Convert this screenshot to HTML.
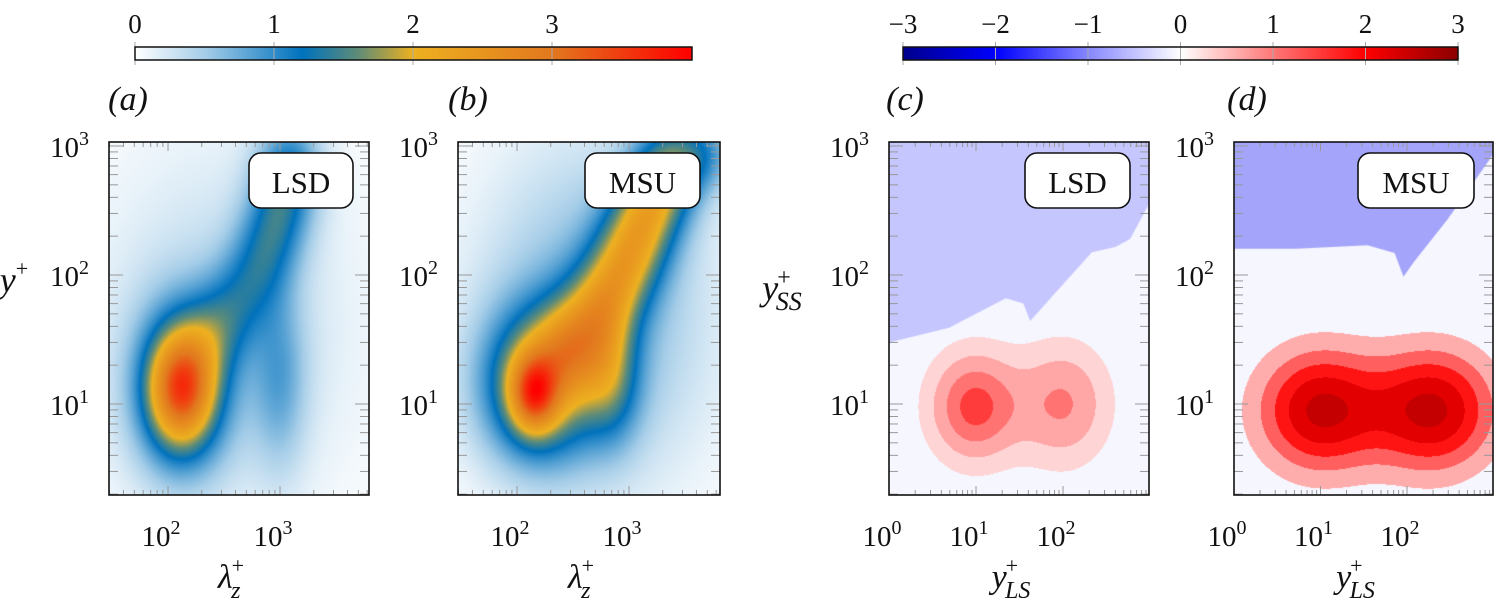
<!DOCTYPE html>
<html><head><meta charset="utf-8">
<style>
html,body{margin:0;padding:0;background:#fff;}
#wrap{position:relative;width:1494px;height:611px;overflow:hidden;}
canvas{position:absolute;}
svg{position:absolute;left:0;top:0;}
text{font-family:"Liberation Serif",serif;fill:#111;}
</style></head>
<body>
<div id="wrap">
<canvas id="cbA"></canvas>
<canvas id="cbC"></canvas>
<canvas id="ca"></canvas>
<canvas id="cb"></canvas>
<canvas id="cc"></canvas>
<canvas id="cd"></canvas>
<svg id="ov" width="1494" height="611"></svg>
</div>
<script>
// ---- data (log10 coordinates: u = log10 x, v = log10 y) ----
const cbATicks = ["0","1","2","3"];
const cbCTicks = ["\u22123","\u22122","\u22121","0","1","2","3"];
const panelLetters = ["(a)","(b)","(c)","(d)"];
const boxLabels = ["LSD","MSU","LSD","MSU"];
// blobs: [u, v, sigma_u, sigma_v, amplitude]
const blobsA = [[2.12,1.12,0.3,0.45,1.4],[2.12,1.12,0.2,0.3,1.9],
  [2.38,1.5,0.2,0.25,0.5],[2.6,1.75,0.2,0.25,0.55],[2.8,2.05,0.2,0.25,0.6],[2.95,2.35,0.2,0.25,0.65],[3.05,2.65,0.2,0.25,0.7],[3.1,2.95,0.2,0.25,0.6],
  [3.0,1.2,0.17,0.5,0.6],[2.5,1.6,0.8,1.0,0.35]];
const blobsB = [[2.15,1.08,0.14,0.2,1.6],[2.2,1.15,0.35,0.4,1.9],
  [2.5,1.45,0.22,0.25,1.05],[2.75,1.75,0.22,0.25,1.05],[2.95,2.05,0.22,0.25,1.05],[3.1,2.35,0.22,0.25,1.1],[3.25,2.65,0.22,0.25,1.1],[3.4,2.9,0.22,0.25,0.9],
  [2.85,1.2,0.18,0.35,0.9],[2.7,1.7,0.7,0.9,0.7],[3.7,2.95,0.2,0.2,0.6]];
const blobsC = [[0.98,0.98,0.36,0.3,2.2],[2.0,1.0,0.38,0.33,1.55]];
const blobsD = [[1.0,0.95,0.5,0.33,2.6],[2.3,0.95,0.5,0.33,2.6]];
const levelsC = [0.45,0.95,1.5,2.0];
const levelsD = [0.5,1.0,1.5,2.0,2.5];
// negative-region boundary [x, y] in data coordinates
const negBoundaryC = [[1,30],[4.9,39],[22,66],[35,60],[42,44],[79,71],[215,150],[400,165],[590,190],[850,300],[980,360]];
const negBoundaryD = [[1,160],[5.2,160],[35,170],[72,148],[91,97],[120,126],[295,270],[980,850]];

// ---- geometry ----
const Y0=142, Y1=495;
function vOf(py){return 1+(404-py)/129;}
function yPix(v){return 404-(v-1)*129;}
const panels=[
 {id:'ca',x0:109,x1:369,u0:1.473,dec:112,kind:'heat',blobs:blobsA},
 {id:'cb',x0:458,x1:720,u0:1.473,dec:112,kind:'heat',blobs:blobsB},
 {id:'cc',x0:889,x1:1149,u0:0,dec:87,kind:'cont',blobs:blobsC,levels:levelsC,neg:negBoundaryC,negCol:[198,198,255],
  cols:[[255,212,212],[255,166,166],[255,115,115],[255,60,60]]},
 {id:'cd',x0:1234,x1:1493,u0:0,dec:86.5,kind:'cont',blobs:blobsD,levels:levelsD,neg:negBoundaryD,negCol:[164,164,250],
  cols:[[255,172,172],[255,95,95],[255,20,20],[226,0,0],[196,0,0]]}
];
panels.forEach(p=>{p.xPix=u=>p.x0+(u-p.u0)*p.dec; p.uOf=px=>p.u0+(px-p.x0)/p.dec;});

const heatStops=[[0,[255,255,255]],[0.5,[165,205,232]],[1.2,[0,114,189]],[1.6,[95,140,120]],[2.0,[237,177,32]],[3.0,[226,120,30]],[4.0,[255,0,0]]];
const divStops=[[-3,[0,0,140]],[-2,[0,0,255]],[-1,[135,135,255]],[0,[255,255,255]],[1,[255,120,120]],[2,[255,0,0]],[3,[140,0,0]]];
function cmap(stops,t){
  if(t<=stops[0][0])return stops[0][1];
  for(let i=1;i<stops.length;i++){if(t<=stops[i][0]){const a=stops[i-1],b=stops[i];const f=(t-a[0])/(b[0]-a[0]);
    return [0,1,2].map(k=>a[1][k]+(b[1][k]-a[1][k])*f);}}
  return stops[stops.length-1][1];
}
function field(blobs,u,v){let s=0;for(const b of blobs){const du=(u-b[0])/b[2],dv=(v-b[1])/b[3];s+=b[4]*Math.exp(-0.5*(du*du+dv*dv));}return s;}

function setupCanvas(id,x,y,w,h){const c=document.getElementById(id);c.width=w;c.height=h;c.style.left=x+'px';c.style.top=y+'px';return c.getContext('2d');}

(function(){
  let g=setupCanvas('cbA',135,47,557,13);let im=g.createImageData(557,13);
  for(let x=0;x<557;x++){const col=cmap(heatStops,4*x/556);for(let y=0;y<13;y++){const i=(y*557+x)*4;im.data[i]=col[0];im.data[i+1]=col[1];im.data[i+2]=col[2];im.data[i+3]=255;}}
  g.putImageData(im,0,0);
  g=setupCanvas('cbC',903,47,555,13);im=g.createImageData(555,13);
  for(let x=0;x<555;x++){const col=cmap(divStops,-3+6*x/554);for(let y=0;y<13;y++){const i=(y*555+x)*4;im.data[i]=col[0];im.data[i+1]=col[1];im.data[i+2]=col[2];im.data[i+3]=255;}}
  g.putImageData(im,0,0);
})();

panels.forEach(p=>{
  const w=p.x1-p.x0,h=Y1-Y0;const g=setupCanvas(p.id,p.x0,Y0,w,h);
  if(p.kind==='heat'){
    const im=g.createImageData(w,h);
    for(let y=0;y<h;y++){const v=vOf(Y0+y+0.5);for(let x=0;x<w;x++){const u=p.uOf(p.x0+x+0.5);
      const col=cmap(heatStops,Math.min(4,field(p.blobs,u,v)));const i=(y*w+x)*4;
      im.data[i]=col[0];im.data[i+1]=col[1];im.data[i+2]=col[2];im.data[i+3]=255;}}
    g.putImageData(im,0,0);
  } else {
    g.fillStyle='rgb(246,246,255)';g.fillRect(0,0,w,h);
    g.fillStyle='rgb('+p.negCol.join(',')+')';g.beginPath();g.moveTo(0,0);
    p.neg.forEach(pt=>g.lineTo(p.xPix(Math.log10(pt[0]))-p.x0,yPix(Math.log10(pt[1]))-Y0));
    g.lineTo(w,0);g.closePath();g.fill();
    const im=g.getImageData(0,0,w,h);
    for(let y=0;y<h;y++){const v=vOf(Y0+y+0.5);for(let x=0;x<w;x++){const u=p.uOf(p.x0+x+0.5);
      const f=field(p.blobs,u,v);let lev=-1;p.levels.forEach((L,k)=>{if(f>=L)lev=k;});
      if(lev>=0){const col=p.cols[lev];const i=(y*w+x)*4;im.data[i]=col[0];im.data[i+1]=col[1];im.data[i+2]=col[2];}}}
    g.putImageData(im,0,0);
  }
});

const NS='http://www.w3.org/2000/svg';const ov=document.getElementById('ov');
function el(tag,attrs,parent){const e=document.createElementNS(NS,tag);for(const k in attrs)e.setAttribute(k,attrs[k]);(parent||ov).appendChild(e);return e;}
function pow10(x,y,exp,anchor,name){
  const t=el('text',{x:x,y:y,'font-size':29,'text-anchor':anchor});
  
  
  t.appendChild(document.createTextNode('10'));
  const s=el('tspan',{dy:-12,'font-size':20},t);s.textContent=exp;return t;
}
[[135,692,cbATicks,'colorbar-energy'],[903,1458,cbCTicks,'colorbar-correlation']].forEach(c=>{
  const n=c[2].length;const step=(c[0]===135)?(552-135)/3:(c[1]-c[0])/(n-1);
  c[2].forEach((lab,i)=>{const x=c[0]+i*step;
    el('line',{x1:x,y1:42,x2:x,y2:65,stroke:'#aaa','stroke-width':1});
    const t=el('text',{x:x,y:33,'font-size':27,'text-anchor':'middle'});t.textContent=lab;
    
    
  });
  const r=el('rect',{x:c[0],y:47,width:c[1]-c[0],height:13,fill:'none',stroke:'#111','stroke-width':1.5});
  
  
});
[[128,'(a)'],[468,'(b)'],[905,'(c)'],[1247,'(d)']].forEach((d,i)=>{
  const t=el('text',{x:d[0],y:110,'font-size':34,'text-anchor':'middle','font-style':'italic'});t.textContent=panelLetters[i];
  
  
});
panels.forEach((p,pi)=>{
  const g=el('g',{});
  
  
  const uMax=p.uOf(p.x1);
  for(let d=Math.floor(p.u0);d<=Math.ceil(uMax);d++){for(let k=1;k<10;k++){const u=d+Math.log10(k);if(u<p.u0-1e-6||u>uMax)continue;
    const x=p.xPix(u),L=(k===1)?9:5;
    el('line',{x1:x,y1:Y1,x2:x,y2:Y1-L,stroke:'#999','stroke-width':1},g);
    el('line',{x1:x,y1:Y0,x2:x,y2:Y0+L,stroke:'#999','stroke-width':1},g);
    if(k===1&&x<=p.x1-20) pow10(x-7,546,String(d),'middle','x-tick-label');}}
  const vMin=vOf(Y1),vMax=vOf(Y0);
  for(let d=0;d<=3;d++){for(let k=1;k<10;k++){const v=d+Math.log10(k);if(v<vMin||v>vMax)continue;
    const y=yPix(v),L=(k===1)?14:9;
    el('line',{x1:p.x0,y1:y,x2:p.x0+L,y2:y,stroke:'#999','stroke-width':1},g);
    el('line',{x1:p.x1,y1:y,x2:p.x1-L,y2:y,stroke:'#999','stroke-width':1},g);
    if(k===1) pow10(p.x0-20,y+11,String(d),'end','y-tick-label');}}
  el('rect',{x:p.x0,y:Y0,width:p.x1-p.x0,height:Y1-Y0,fill:'none',stroke:'#111','stroke-width':1.6},g);
  const bx=[249,585,1025,1358][pi],bw=[104,115,105,116][pi];
  const b=el('rect',{x:bx,y:153,width:bw,height:55,rx:12,fill:'#fff',stroke:'#111','stroke-width':1.6});
  
  
  const t=el('text',{x:bx+bw/2,y:193,'font-size':31,'text-anchor':'middle'});t.textContent=boxLabels[pi];
  
  
  const cx=(p.x0+p.x1)/2;
  const xt=el('text',{x:cx-8,y:588,'font-size':34,'font-style':'italic','text-anchor':'middle'});
  
  
  if(p.kind==='heat'){xt.textContent='\u03bb';el('tspan',{dx:-1,dy:-15,'font-size':22,'font-style':'normal'},xt).textContent='+';el('tspan',{dx:-13,dy:25,'font-size':24},xt).textContent='z';}
  else{xt.textContent='y';el('tspan',{dx:-1,dy:-15,'font-size':22,'font-style':'normal'},xt).textContent='+';el('tspan',{dx:-13,dy:25,'font-size':24},xt).textContent='LS';}
});
(function(){
  const t1=el('text',{x:14,y:292,'font-size':36,'font-style':'italic','text-anchor':'middle'});
  
  
  t1.textContent='y';el('tspan',{dy:-16,'font-size':22,'font-style':'normal'},t1).textContent='+';
  const t2=el('text',{x:782,y:300,'font-size':36,'font-style':'italic','text-anchor':'middle'});
  
  
  t2.textContent='y';el('tspan',{dx:-1,dy:-15,'font-size':24,'font-style':'normal'},t2).textContent='+';el('tspan',{dx:-15,dy:25,'font-size':26},t2).textContent='SS';
})();
</script>
</body></html>
